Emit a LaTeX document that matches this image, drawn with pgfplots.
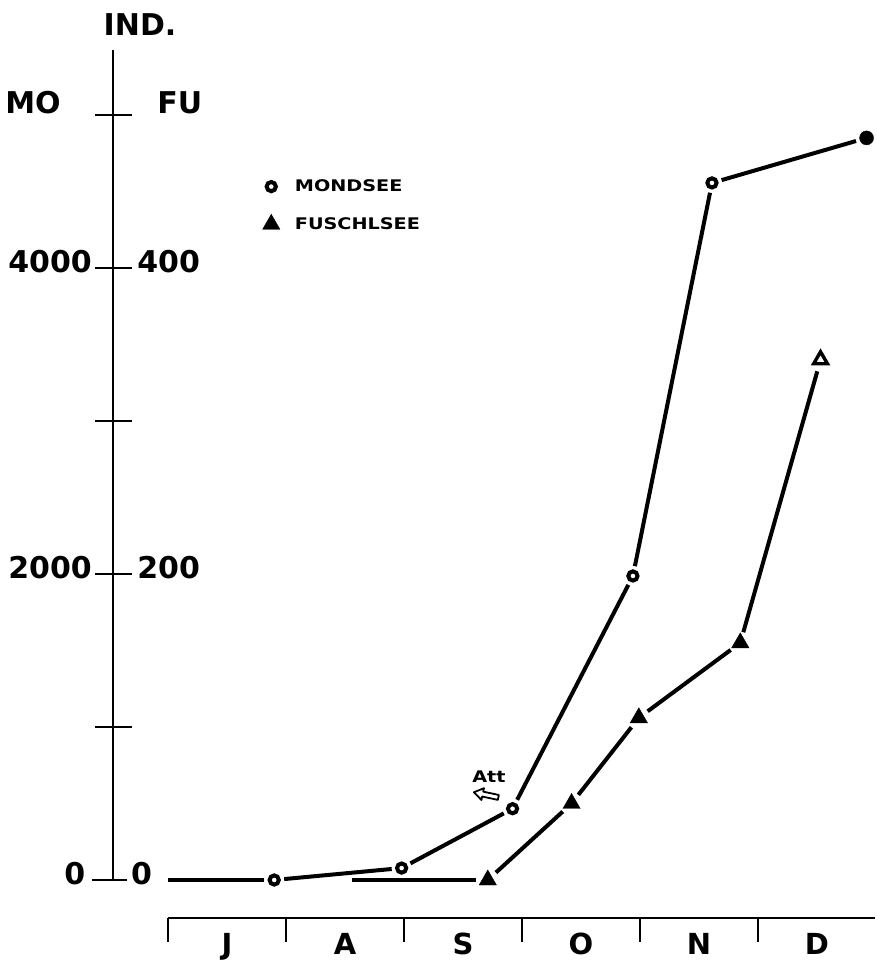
\documentclass[border=0pt]{standalone}
\usepackage{pgfplots}
\pgfplotsset{compat=1.18}
\usepackage{fontspec}
\setmainfont{DejaVu Sans}
\newfontfamily\widefont[FakeStretch=1.2]{DejaVu Sans}
\usetikzlibrary{arrows.meta}
\begin{document}
\begin{tikzpicture}[lab/.style={font=\bfseries\fontsize{30}{36}\selectfont, inner sep=0pt},
  mon/.style={font=\bfseries\fontsize{29}{34}\selectfont, inner sep=0pt, anchor=base, text depth=0pt}]
\begin{axis}[
  width=875pt, height=961pt, scale only axis,
  xmin=-1.4237, xmax=5.9915, ymin=-529.4, ymax=5751.6,
  hide axis, clip=false,
  legend cell align=left,
  legend style={draw=none, fill=none, font=\widefont\bfseries\fontsize{16}{19}\selectfont,
    row sep=19pt, column sep=13pt, at={(axis cs:0.80,4590)}, anchor=north west, inner sep=0pt},
  seg/.style={line width=4pt, black, forget plot},
]
% fixed picture frame (invisible)
\path (rel axis cs:0,0) rectangle (rel axis cs:1,1);
% vertical axis
\draw[line width=2.4pt] (axis cs:-0.4661,0) -- (axis cs:-0.4661,5425);
\draw[line width=2.4pt] (axis cs:-0.645,0) -- (axis cs:-0.345,0);
\draw[line width=2.4pt] (axis cs:-0.6186,1000) -- (axis cs:-0.3051,1000);
\draw[line width=2.4pt] (axis cs:-0.6186,2000) -- (axis cs:-0.3051,2000);
\draw[line width=2.4pt] (axis cs:-0.6186,3000) -- (axis cs:-0.3051,3000);
\draw[line width=2.4pt] (axis cs:-0.6186,4000) -- (axis cs:-0.3051,4000);
\draw[line width=2.4pt] (axis cs:-0.6186,5000) -- (axis cs:-0.3051,5000);
% vertical axis labels
\node[lab] at (axis cs:-1.144,5078) {MO};
\node[lab] at (axis cs:0.10,5078) {FU};
\node[lab] at (axis cs:-0.237,5588) {IND.};
\node[lab, anchor=east] at (axis cs:-0.644,4040) {4000};
\node[lab, anchor=west] at (axis cs:-0.262,4040) {400};
\node[lab, anchor=east] at (axis cs:-0.644,2040) {2000};
\node[lab, anchor=west] at (axis cs:-0.262,2040) {200};
\node[lab, anchor=east] at (axis cs:-0.700,45) {0};
\node[lab, anchor=west] at (axis cs:-0.3136,45) {0};
% horizontal axis
\draw[line width=2.4pt] (axis cs:0,-248) -- (axis cs:5.99,-248);
\draw[line width=2.4pt] (axis cs:0,-248) -- (axis cs:0,-405);
\draw[line width=2.4pt] (axis cs:1,-248) -- (axis cs:1,-405);
\draw[line width=2.4pt] (axis cs:2,-248) -- (axis cs:2,-405);
\draw[line width=2.4pt] (axis cs:3,-248) -- (axis cs:3,-405);
\draw[line width=2.4pt] (axis cs:4,-248) -- (axis cs:4,-405);
\draw[line width=2.4pt] (axis cs:5,-248) -- (axis cs:5,-405);
\node[mon] at (axis cs:0.5,-484) {J};
\node[mon] at (axis cs:1.5,-484) {A};
\node[mon] at (axis cs:2.5,-484) {S};
\node[mon] at (axis cs:3.5,-484) {O};
\node[mon] at (axis cs:4.5,-484) {N};
\node[mon] at (axis cs:5.5,-484) {D};
% Att annotation
\node[font=\widefont\bfseries\fontsize{16}{19}\selectfont, inner sep=0pt] at (axis cs:2.72,673) {Att};
\draw[line width=1.8pt, line join=round, shift={(axis cs:2.70,556)}, rotate=-12]
  (-13pt,0pt) -- (-4pt,6pt) -- (-4pt,2.5pt) -- (12pt,2.5pt) -- (12pt,-2.5pt) -- (-4pt,-2.5pt) -- (-4pt,-6pt) -- cycle;
% Mondsee segments
\addplot[seg, shorten >=10pt] coordinates {(0,0)(0.9,0)};
\addplot[seg, shorten <=10pt, shorten >=10pt] coordinates {(0.9,0)(1.98,78)};
\addplot[seg, shorten <=10pt, shorten >=10pt] coordinates {(1.98,78)(2.92,466)};
\addplot[seg, shorten <=10pt, shorten >=10pt] coordinates {(2.92,466)(3.94,1987)};
\addplot[seg, shorten <=10pt, shorten >=10pt] coordinates {(3.94,1987)(4.61,4556)};
\addplot[seg, shorten <=10pt, shorten >=11pt] coordinates {(4.61,4556)(5.92,4850)};
% Fuschlsee segments
\addplot[seg, shorten >=12pt, y filter/.expression={10*y}] coordinates {(1.56,0)(2.71,0)};
\addplot[seg, shorten <=11pt, shorten >=12pt, y filter/.expression={10*y}] coordinates {(2.71,0)(3.42,50)};
\addplot[seg, shorten <=11pt, shorten >=12pt, y filter/.expression={10*y}] coordinates {(3.42,50)(3.99,106)};
\addplot[seg, shorten <=11pt, shorten >=12pt, y filter/.expression={10*y}] coordinates {(3.99,106)(4.85,155)};
\addplot[seg, shorten <=11pt, shorten >=12pt, y filter/.expression={10*y}] coordinates {(4.85,155)(5.53,340)};
% marks
\addplot[only marks, mark=*, mark size=4.6pt, mark options={draw=black, fill=white, line width=4pt}] coordinates {(0.9,0)(1.98,78)(2.92,466)(3.94,1987)(4.61,4556)};
\addlegendentry{MONDSEE}
\addplot[only marks, mark=triangle*, mark size=10pt, mark options={draw=black, fill=black}, y filter/.expression={10*y}] coordinates {(2.71,0)(3.42,50)(3.99,106)(4.85,155)};
\addlegendentry{FUSCHLSEE}
\addplot[only marks, mark=*, mark size=7pt, black, forget plot] coordinates {(5.92,4850)};
\addplot[only marks, mark=triangle*, mark size=8pt, mark options={draw=black, fill=white, line width=3.4pt}, forget plot, y filter/.expression={10*y}] coordinates {(5.53,340)};
\end{axis}
\end{tikzpicture}
\end{document}
